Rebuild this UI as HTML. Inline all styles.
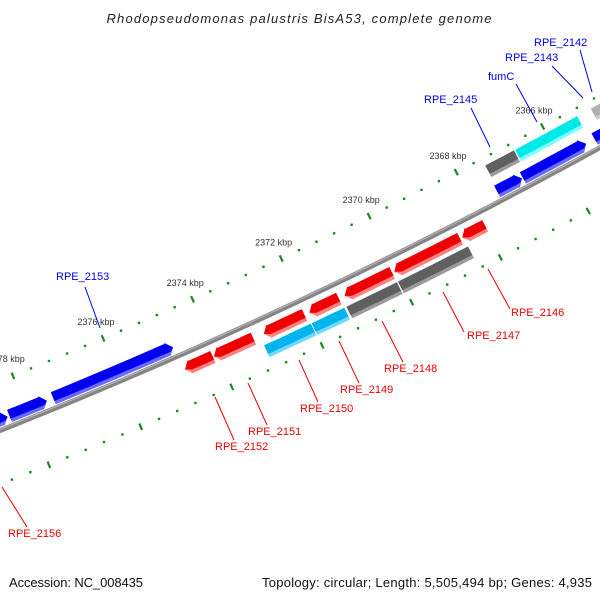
<!DOCTYPE html>
<html><head><meta charset="utf-8"><style>
html,body{margin:0;padding:0;background:#fff;}
svg{display:block;font-family:"Liberation Sans",sans-serif;}
</style></head><body>
<svg id="map" width="600" height="600" viewBox="0 0 600 600" xmlns="http://www.w3.org/2000/svg">
<text x="299" y="23" text-anchor="middle" font-size="13" font-style="italic" fill="#222" textLength="385" lengthAdjust="spacing">Rhodopseudomonas palustris BisA53, complete genome</text>
<text x="9" y="587" font-size="13" fill="#111" textLength="134" lengthAdjust="spacing">Accession: NC_008435</text>
<text x="592" y="587" font-size="13" fill="#111" text-anchor="end" textLength="330" lengthAdjust="spacing">Topology: circular; Length: 5,505,494 bp; Genes: 4,935</text>
<g id="layer"></g>
</svg>
<script>
// gene data (kbp)
const geneStart = [2378.41,2377.55,2374.76,2366.87,2365.39,2364.85, 2366.75,2365.28,2364.62, 2374.10,2373.20,2372.06,2371.29,2370.09,2368.55,2367.98, 2372.02,2371.27,2370.09,2368.48];
const geneEnd   = [2378.95,2378.37,2377.41,2367.44,2366.85,2365.19, 2367.41,2366.72,2364.96, 2374.72,2374.08,2372.97,2371.95,2371.16,2370.04,2368.50, 2373.06,2372.00,2371.22,2370.06];
const geneRow   = [0,0,0,0,0,0, 1,1,1, 2,2,2,2,2,2,2, 3,3,3,3];
const geneType  = ["fwd","fwd","fwd","fwd","fwd","fwd","gray","cyan","lgray","rev","rev","rev","rev","rev","rev","rev","sky","sky","gray","gray"];
const tickMajors = [2364,2366,2368,2370,2372,2374,2376,2378,2380];
const tickLabels = ["2364 kbp","2366 kbp","2368 kbp","2370 kbp","2372 kbp","2374 kbp","2376 kbp","2378 kbp","2380 kbp"];
const labelText = ["RPE_2153","RPE_2145","fumC","RPE_2143","RPE_2142","RPE_2156","RPE_2152","RPE_2151","RPE_2150","RPE_2149","RPE_2148","RPE_2147","RPE_2146"];

const CX=-1953, CY=-4489, R=5293, A0=61.6, K=0.533;
const ROWD=[-10,-32,15,32];
const NS="http://www.w3.org/2000/svg";
const layer=document.getElementById('layer');
function ang(kbp){return (A0+(kbp-2366)*K)*Math.PI/180;}
function P(kbp,d){const a=ang(kbp);return [CX+(R+d)*Math.cos(a),CY+(R+d)*Math.sin(a)];}
function mk(tag,attrs){const e=document.createElementNS(NS,tag);for(const k in attrs)e.setAttribute(k,attrs[k]);layer.appendChild(e);return e;}
function arcPts(k1,k2,d,n){const p=[];for(let i=0;i<=n;i++){p.push(P(k1+(k2-k1)*i/n,d));}return p;}
function ptsStr(p){return p.map(q=>q[0].toFixed(1)+','+q[1].toFixed(1)).join(' ');}

// backbone
let bb=mk('polyline',{points:ptsStr(arcPts(2356,2384,0,60)),fill:'none',stroke:'#858585','stroke-width':5});


let bb2=mk('polyline',{points:ptsStr(arcPts(2356,2384,-1.2,60)),fill:'none',stroke:'#b0b0b0','stroke-width':1.3});



// ticks
[-46,50].forEach((d,li)=>{
  for(let k=2362;k<=2382.01;k+=0.4){
    const kk=Math.round(k*10)/10;
    if(Math.abs(kk-Math.round(kk/2)*2)<0.01) continue;
    const p=P(kk,d);
    const dot=mk('rect',{x:(p[0]-1.2).toFixed(1),y:(p[1]-1.2).toFixed(1),width:2.4,height:2.4,fill:'#1a8a1a'});
    
    
  }
  tickMajors.forEach((k,i)=>{
    const a=P(k,d-3.5),b=P(k,d+3.5);
    const t=mk('line',{x1:a[0],y1:a[1],x2:b[0],y2:b[1],stroke:'#1a8a1a','stroke-width':2.2});
    
    
    if(li===0){
      const q=P(k,-64);
      const tx=mk('text',{x:q[0].toFixed(1),y:(q[1]+3).toFixed(1),'text-anchor':'middle','font-size':9,fill:'#333'});
      tx.textContent=tickLabels[i];
      
      
    }
  });
});

// genes
const COL={fwd:['#0000ee','#6a6aff'],rev:['#ee0000','#ff8080'],gray:['#606060','#9a9a9a'],lgray:['#b0b0b0','#d0d0d0'],cyan:['#00e8e8','#80ffff'],sky:['#00b4ee','#70d8ff']};
function geneShape(s,e,d,type,outerCut){
  const hw=6.5, head=0.13;
  const din=d-hw, dout=d+hw-outerCut;
  let p=[];
  if(type==='fwd'){ // tip at low kbp
    p=p.concat(arcPts(s+head,e,din,6)); p=p.concat(arcPts(e,s+head,dout,6));
    p.push(P(s+head,d+hw+1)); p.push(P(s,d)); p.push(P(s+head,d-hw-1));
    if(outerCut>0){p=[].concat(arcPts(s+head,e,din,6),arcPts(e,s+head,dout,6),[P(s+head,dout),P(s+head*(1-(dout-d)/(hw+1))*1,dout>d?dout:d),P(s,d),P(s+head,d-hw-1)]);}
  } else if(type==='rev'){ // tip at high kbp
    p=p.concat(arcPts(s,e-head,din,6)); p.push(P(e-head,d-hw-1)); p.push(P(e,d)); p.push(P(e-head,d+hw+1));
    p=p.concat(arcPts(e-head,s,dout,6));
    if(outerCut>0){p=[].concat(arcPts(s,e-head,din,6),[P(e-head,d-hw-1),P(e,d),P(e-head,dout)],arcPts(e-head,s,dout,6));}
  } else {
    p=p.concat(arcPts(s,e,din,6)); p=p.concat(arcPts(e,s,dout,6));
  }
  return p;
}
for(let i=0;i<geneStart.length;i++){
  const s=geneStart[i],e=geneEnd[i],d=ROWD[geneRow[i]],t=geneType[i];
  const c=COL[t];
  const g=document.createElementNS(NS,'g');
  
  
  layer.appendChild(g);
  const a=document.createElementNS(NS,'polygon');
  a.setAttribute('points',ptsStr(geneShape(s,e,d,t,0)));a.setAttribute('fill',c[1]);
  
  
  g.appendChild(a);
  const b=document.createElementNS(NS,'polygon');
  b.setAttribute('points',ptsStr(geneShape(s,e,d,t,3.5)));b.setAttribute('fill',c[0]);
  
  
  g.appendChild(b);
}

// gene labels (annotation positions)
const labelX=[56,424,488,505,534,8,215,248,300,340,384,467,511];
const labelY=[280,103,80,61,46,537,450,435,412,393,372,339,316];
const lineFrom=[[100,328],[490,147],[537,122],[583,98],[592,92],[2,487],[215,397],[248,383],[299,360],[339,341],[382,321],[443,292],[488,269]];
const lineTo=[[85,287],[471,108],[516,84],[552,66],[580,50],[27,527],[234,440],[267,425],[318,402],[359,383],[403,362],[464,332],[510,309]];
for(let i=0;i<labelText.length;i++){
  const blue=i<5, col=blue?'#0000ee':'#ee0000';
  const l=mk('line',{x1:lineFrom[i][0],y1:lineFrom[i][1],x2:lineTo[i][0],y2:lineTo[i][1],stroke:col,'stroke-width':1});
  
  
  const t=mk('text',{x:labelX[i],y:labelY[i],'font-size':11,fill:col});
  t.textContent=labelText[i];
  
  
}
</script>
</body></html>
